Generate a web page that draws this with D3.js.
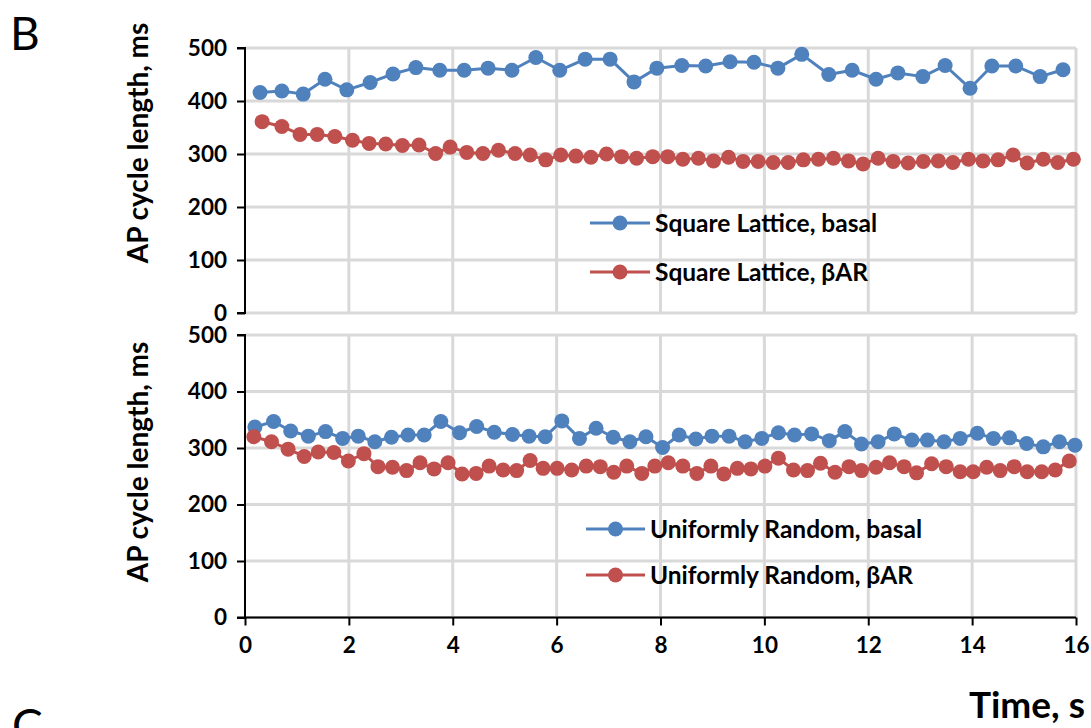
<!DOCTYPE html>
<html>
<head>
<meta charset="utf-8">
<script src="https://cdn.jsdelivr.net/npm/d3@7/dist/d3.min.js"></script>
<style>
  html, body { margin: 0; padding: 0; background: #fff; }
  svg { display: block; }
  text { font-family: Lato, "Open Sans", sans-serif; fill: #000; }
</style>
</head>
<body>
<svg id="chart" width="1091" height="728"></svg>
<script>
// Square lattice: beat times (s) and AP cycle lengths (ms)
const squareBasalTime = [0.29,0.71,1.12,1.54,1.96,2.41,2.85,3.29,3.75,4.22,4.68,5.14,5.60,6.06,6.55,7.03,7.49,7.93,8.41,8.87,9.34,9.80,10.26,10.72,11.24,11.69,12.15,12.57,13.05,13.48,13.96,14.38,14.84,15.31,15.75];
const squareBasal     = [416,419,413,441,421,435,451,463,458,458,462,458,482,458,479,479,436,462,467,466,474,473,462,488,450,458,441,453,446,467,424,466,466,446,459];

const squareBarTime = [0.33,0.71,1.06,1.39,1.73,2.07,2.39,2.71,3.03,3.35,3.67,3.95,4.27,4.58,4.88,5.20,5.49,5.79,6.08,6.37,6.66,6.96,7.25,7.54,7.85,8.14,8.43,8.73,9.02,9.31,9.59,9.88,10.17,10.46,10.75,11.04,11.33,11.62,11.90,12.19,12.48,12.77,13.06,13.35,13.63,13.93,14.21,14.50,14.79,15.06,15.37,15.65,15.95];
const squareBar     = [361,352,337,337,333,326,320,319,316,317,301,313,303,301,307,301,298,289,298,296,294,300,295,292,295,295,290,292,287,294,286,286,284,284,289,290,292,287,281,292,286,283,286,287,284,290,287,289,298,283,290,284,290];

// Uniformly random placement
const randomBasalTime = [0.19,0.55,0.88,1.22,1.55,1.88,2.18,2.50,2.82,3.14,3.45,3.77,4.13,4.46,4.80,5.15,5.47,5.78,6.10,6.44,6.76,7.09,7.41,7.72,8.04,8.36,8.68,8.99,9.32,9.63,9.95,10.27,10.58,10.91,11.25,11.55,11.87,12.19,12.50,12.84,13.14,13.46,13.77,14.10,14.41,14.72,15.05,15.37,15.68,15.98];
const randomBasal     = [337,347,330,321,329,317,321,311,319,323,323,347,327,338,328,324,321,320,348,317,335,319,311,320,301,323,316,321,321,311,317,327,323,325,313,329,307,311,325,314,314,311,317,326,317,318,308,302,311,305];

const randomBarTime = [0.17,0.51,0.83,1.14,1.41,1.71,1.99,2.29,2.56,2.84,3.11,3.37,3.64,3.91,4.18,4.45,4.70,4.97,5.23,5.49,5.74,6.01,6.29,6.57,6.84,7.10,7.35,7.64,7.89,8.15,8.43,8.70,8.97,9.22,9.48,9.74,10.01,10.27,10.56,10.83,11.08,11.36,11.63,11.87,12.15,12.41,12.69,12.93,13.22,13.50,13.77,14.02,14.28,14.54,14.81,15.06,15.34,15.60,15.87,16.13];
const randomBar     = [320,311,298,285,293,292,277,290,267,266,260,274,263,274,254,255,268,261,260,278,264,264,261,268,267,257,268,255,268,274,268,255,268,254,264,263,268,282,261,260,273,257,267,260,266,274,267,256,272,267,258,258,266,260,267,258,258,261,277,266];

const timeTicks = [0,2,4,6,8,10,12,14,16];
const lengthTicks = [0,100,200,300,400,500];

const seriesLabels = {
  squareBasal: "Square Lattice, basal",
  squareBar: "Square Lattice, βAR",
  randomBasal: "Uniformly Random, basal",
  randomBar: "Uniformly Random, βAR"
};

const BLUE = "#4F81BD";
const RED = "#C0504D";
const GRID = "#D9D9D9";

const svg = d3.select("#chart");
const left = 245, right = 1076;
const x = d3.scaleLinear().domain([0, 16]).range([left, right]);

const panels = [
  { top: 48, bottom: 313, title: 143,
    series: [
      { t: squareBasalTime, v: squareBasal, color: BLUE, label: seriesLabels.squareBasal },
      { t: squareBarTime, v: squareBar, color: RED, label: seriesLabels.squareBar }
    ],
    legend: { x1: 590, x2: 650, textX: 655, ys: [223, 272] },
    xLabels: false },
  { top: 335, bottom: 617.5, title: 462,
    series: [
      { t: randomBasalTime, v: randomBasal, color: BLUE, label: seriesLabels.randomBasal },
      { t: randomBarTime, v: randomBar, color: RED, label: seriesLabels.randomBar }
    ],
    legend: { x1: 586, x2: 645, textX: 650, ys: [529, 575] },
    xLabels: true }
];

panels.forEach((p, i) => {
  const y = d3.scaleLinear().domain([0, 500]).range([p.bottom, p.top]);
  const g = svg.append("g");

  // gridlines
  g.append("g").selectAll("line").data(lengthTicks).join("line")
    .attr("x1", left).attr("x2", right)
    .attr("y1", d => y(d)).attr("y2", d => y(d))
    .attr("stroke", GRID).attr("stroke-width", 3);
  g.append("g").selectAll("line").data(timeTicks.slice(1)).join("line")
    .attr("x1", d => x(d)).attr("x2", d => x(d))
    .attr("y1", y(0)).attr("y2", y(500))
    .attr("stroke", GRID).attr("stroke-width", 3);

  // clip for lines running past the last tick
  const clipId = "clip" + i;
  svg.append("clipPath").attr("id", clipId).append("rect")
    .attr("x", left).attr("y", p.top - 20).attr("width", right - left).attr("height", p.bottom - p.top + 40);

  // series
  p.series.forEach(s => {
    const pts = s.t.map((t, k) => [t, s.v[k]]);
    const line = d3.line().x(d => x(d[0])).y(d => y(d[1]));
    g.append("path").datum(pts)
      .attr("clip-path", `url(#${clipId})`)
      .attr("fill", "none").attr("stroke", s.color).attr("stroke-width", 3)
      .attr("stroke-linejoin", "round")
      .attr("d", line);
    g.append("g").selectAll("circle").data(pts.filter(d => d[0] <= 16)).join("circle")
      .attr("cx", d => x(d[0])).attr("cy", d => y(d[1])).attr("r", 7.5)
      .attr("fill", s.color);
  });

  // y axis
  const yAxis = d3.axisLeft(y).tickValues(lengthTicks).tickSize(8).tickPadding(10);
  const ya = g.append("g").attr("transform", `translate(${left},0)`).call(yAxis);
  ya.select(".domain").attr("stroke", "#000").attr("stroke-width", 2)
    .attr("d", `M-8,${y(500)}H0V${y(0)}H-8`);
  ya.selectAll(".tick line").attr("stroke", "#000").attr("stroke-width", 2);
  ya.selectAll(".tick text")
    .style("font-family", "Lato, sans-serif")
    .style("font-weight", "700").style("font-size", "22.5px").attr("fill", "#000");

  // x axis (labels on the lower panel only)
  if (p.xLabels) {
    const xAxis = d3.axisBottom(x).tickValues(timeTicks).tickSize(8).tickPadding(12);
    const xa = g.append("g").attr("transform", `translate(0,${y(0)})`).call(xAxis);
    xa.select(".domain").attr("stroke", "#000").attr("stroke-width", 2)
      .attr("d", `M${left},0H${right}`);
    xa.selectAll(".tick line").attr("stroke", "#000").attr("stroke-width", 2);
    xa.selectAll(".tick text")
      .style("font-family", "Lato, sans-serif")
      .style("font-weight", "700").style("font-size", "22.5px").attr("fill", "#000");
  }

  // y axis title
  g.append("text")
    .attr("transform", `translate(148,${p.title}) rotate(-90)`)
    .attr("text-anchor", "middle")
    .style("font-weight", "700").style("font-size", "28px")
    .text("AP cycle length, ms");

  // legend
  p.series.forEach((s, k) => {
    const ly = p.legend.ys[k];
    g.append("line").attr("x1", p.legend.x1).attr("x2", p.legend.x2)
      .attr("y1", ly).attr("y2", ly).attr("stroke", s.color).attr("stroke-width", 3);
    g.append("circle").attr("cx", (p.legend.x1 + p.legend.x2) / 2).attr("cy", ly)
      .attr("r", 7.5).attr("fill", s.color);
    g.append("text").attr("x", p.legend.textX).attr("y", ly + 9)
      .style("font-weight", "700").style("font-size", "24.5px")
      .text(s.label);
  });
});

// x axis title
svg.append("text").attr("x", 1085).attr("y", 718).attr("text-anchor", "end")
  .style("font-weight", "700").style("font-size", "37px").text("Time, s");

// panel letters
svg.append("text").attr("x", 10).attr("y", 50)
  .style("font-size", "46px").style("font-weight", "400").text("B");
svg.append("text").attr("x", 12).attr("y", 742)
  .style("font-size", "46px").style("font-weight", "400").text("C");
</script>
</body>
</html>
